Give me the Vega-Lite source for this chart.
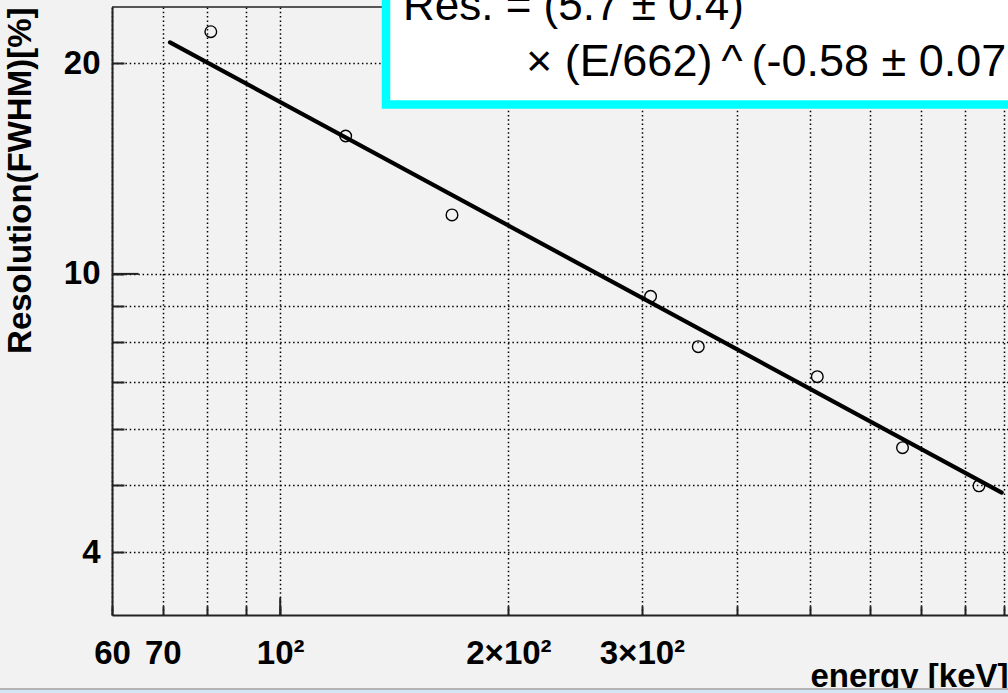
{
  "$schema": "https://vega.github.io/schema/vega-lite/v6.json",
  "autosize": {"type": "none"},
  "padding": {"left": 112, "top": 7, "right": 0, "bottom": 78},
  "width": 896,
  "height": 608,
  "background": "#f2f2f2",
  "config": {"view": {"stroke": null}, "font": "Liberation Sans"},
  "datasets": {
    "points": [
      {"energy": 81, "resolution": 22.18},
      {"energy": 122, "resolution": 15.74},
      {"energy": 168.5, "resolution": 12.14},
      {"energy": 308, "resolution": 9.29},
      {"energy": 356, "resolution": 7.87},
      {"energy": 511, "resolution": 7.13},
      {"energy": 662, "resolution": 5.645},
      {"energy": 835, "resolution": 4.98}
    ],
    "fit": [
      {"energy": 71.56, "resolution": 21.42},
      {"energy": 894.7, "resolution": 4.87}
    ],
    "one": [{}]
  },
  "layer": [
    {
      "data": {"name": "points"},
      "mark": {"type": "point", "shape": "circle", "filled": false, "stroke": "black", "strokeWidth": 1.4, "size": 135, "opacity": 1},
      "encoding": {
        "x": {
          "field": "energy", "type": "quantitative",
          "scale": {"type": "log", "domain": [60, 912], "nice": false},
          "axis": {
            "values": [60, 70, 80, 90, 100, 200, 300, 400, 500, 600, 700, 800, 900],
            "labelExpr": "datum.value==60?'60':datum.value==70?'70':datum.value==100?'10²':datum.value==200?'2×10²':datum.value==300?'3×10²':''",
            "labelFont": "Liberation Sans", "labelFontWeight": "bold", "labelFontSize": 33, "labelColor": "black",
            "labelBaseline": "top", "labelAlign": "center", "labelOverlap": false, "labelFlush": false, "labelBound": false,
            "tickSize": -9,
            "labelPadding": 31,
            "tickColor": "#222", "tickWidth": 2,
            "domainColor": "#222", "domainWidth": 2,
            "grid": true, "gridColor": "black", "gridDash": [1.5, 2.8], "gridWidth": 1.5, "gridOpacity": 1,
            "title": "energy [keV]", "titleFont": "Liberation Sans", "titleFontWeight": "bold", "titleFontSize": 33, "titleColor": "black",
            "titleAnchor": "end", "titleAlign": "right", "titleBaseline": "alphabetic", "titlePadding": 16
          }
        },
        "y": {
          "field": "resolution", "type": "quantitative",
          "scale": {"type": "log", "domain": [3.256, 24.06], "nice": false},
          "axis": {
            "values": [4, 5, 6, 7, 8, 9, 10, 20],
            "labelExpr": "(datum.value==4||datum.value==10||datum.value==20)?format(datum.value,'d'):''",
            "labelFont": "Liberation Sans", "labelFontWeight": "bold", "labelFontSize": 33, "labelColor": "black",
            "labelBaseline": "middle", "labelAlign": "right", "labelOverlap": false, "labelFlush": false, "labelBound": false,
            "tickSize": -12,
            "labelPadding": 24,
            "tickColor": "#222", "tickWidth": 2,
            "domainColor": "#222", "domainWidth": 2,
            "grid": true, "gridColor": "black", "gridDash": [1.5, 2.8], "gridWidth": 1.5, "gridOpacity": 1,
            "title": "Resolution(FWHM)[%]", "titleFont": "Liberation Sans", "titleFontWeight": "bold", "titleFontSize": 33, "titleColor": "black",
            "titleAnchor": "end", "titlePadding": 26
          }
        }
      }
    },
    {
      "data": {"name": "fit"},
      "mark": {"type": "line", "color": "black", "strokeWidth": 4.2, "strokeCap": "round"},
      "encoding": {
        "x": {"field": "energy", "type": "quantitative", "scale": {"type": "log", "domain": [60, 912], "nice": false}},
        "y": {"field": "resolution", "type": "quantitative", "scale": {"type": "log", "domain": [3.256, 24.06], "nice": false}}
      }
    },
    {
      "data": {"name": "one"},
      "mark": {"type": "rule", "color": "#222", "strokeWidth": 1.5},
      "encoding": {
        "x": {"datum": 60, "type": "quantitative"},
        "x2": {"datum": 912},
        "y": {"datum": 24.06, "type": "quantitative"}
      }
    },
    {
      "data": {"name": "one"},
      "mark": {"type": "rule", "color": "#222", "strokeWidth": 2},
      "encoding": {
        "x": {"datum": 100, "type": "quantitative"},
        "y": {"datum": 3.256, "type": "quantitative"},
        "y2": {"datum": 3.448}
      }
    },
    {
      "data": {"name": "one"},
      "mark": {"type": "rule", "color": "#222", "strokeWidth": 2},
      "encoding": {
        "x": {"datum": 60, "type": "quantitative"},
        "x2": {"datum": 65.05},
        "y": {"datum": 10, "type": "quantitative"}
      }
    },
    {
      "data": {"name": "one"},
      "mark": {"type": "rect", "fill": "white", "stroke": "#00ffff", "strokeWidth": 8.5},
      "encoding": {
        "x": {"datum": 137.9, "type": "quantitative"},
        "x2": {"datum": 3000},
        "y": {"datum": 17.46, "type": "quantitative"},
        "y2": {"datum": 40}
      }
    },
    {
      "data": {"name": "one"},
      "mark": {"type": "text", "text": "Res. = (5.7 ± 0.4)", "font": "Liberation Sans", "fontSize": 44, "color": "black", "align": "left", "baseline": "alphabetic"},
      "encoding": {
        "x": {"datum": 145.2, "type": "quantitative"},
        "y": {"datum": 23.05, "type": "quantitative"}
      }
    },
    {
      "data": {"name": "one"},
      "mark": {"type": "text", "text": "× (E/662)\u2009^\u2009(-0.58 ± 0.07", "font": "Liberation Sans", "fontSize": 45, "color": "black", "align": "left", "baseline": "alphabetic"},
      "encoding": {
        "x": {"datum": 211, "type": "quantitative"},
        "y": {"datum": 19.15, "type": "quantitative"}
      }
    },
    {
      "data": {"name": "one"},
      "mark": {"type": "rect", "fill": "#d4e6f6"},
      "encoding": {
        "x": {"datum": 40, "type": "quantitative"},
        "x2": {"datum": 3000},
        "y": {"datum": 2.544, "type": "quantitative"},
        "y2": {"datum": 2.0}
      }
    },
    {
      "data": {"name": "one"},
      "mark": {"type": "rect", "fill": "#b4b4b4"},
      "encoding": {
        "x": {"datum": 40, "type": "quantitative"},
        "x2": {"datum": 3000},
        "y": {"datum": 2.561, "type": "quantitative"},
        "y2": {"datum": 2.544}
      }
    }
  ]
}
